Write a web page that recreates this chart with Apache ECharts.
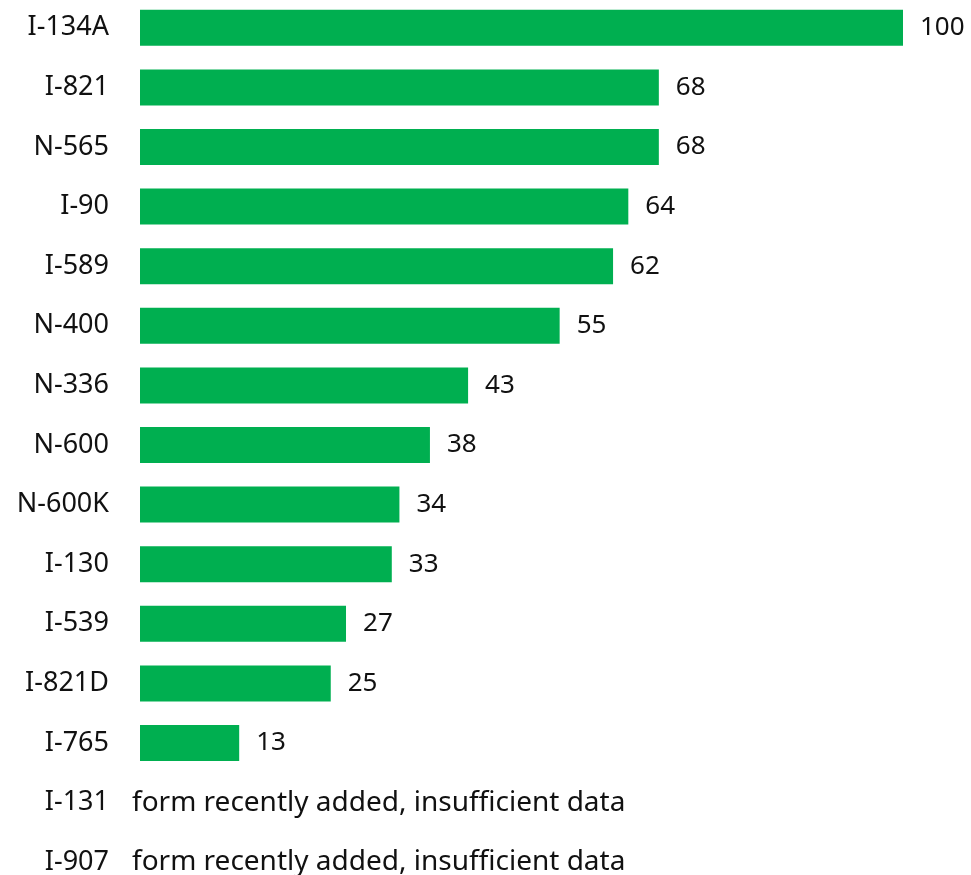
<!DOCTYPE html>
<html><head><meta charset="utf-8">
<script src="https://cdn.jsdelivr.net/npm/echarts@6/dist/echarts.min.js"></script>
<style>html,body{margin:0;padding:0;background:#fff}#c{width:971px;height:875px}</style>
</head><body><div id="c"></div>
<script>
const categories = ["I-134A","I-821","N-565","I-90","I-589","N-400","N-336","N-600","N-600K","I-130","I-539","I-821D","I-765","I-131","I-907"];
const values = [100,68,68,64,62,55,43,38,34,33,27,25,13,null,null];
const notes = [null,null,null,null,null,null,null,null,null,null,null,null,null,"form recently added, insufficient data","form recently added, insufficient data"];

const FONT = "Noto Sans";
const data = values.map((v,i)=> v===null ? {value:0, label:{formatter:notes[i], distance:-8, fontSize:28}} : {value:v});

const chart = echarts.init(document.getElementById('c'));
chart.setOption({
  animation:false,
  grid:{left:140, right:68, top:-2, height:894, containLabel:false, outerBoundsMode:'none'},
  xAxis:{type:'value', min:0, max:100, show:false},
  yAxis:{type:'category', data:categories, inverse:true,
    axisLine:{show:false}, axisTick:{show:false}, splitLine:{show:false},
    axisLabel:{margin:31, fontFamily:FONT, fontSize:27, color:'#111'}},
  series:[{type:'bar', data:data, barWidth:36, itemStyle:{color:'#00AF50'},
    label:{show:true, position:'right', distance:17, fontFamily:FONT, fontSize:26, color:'#111'}}]
});
</script></body></html>
